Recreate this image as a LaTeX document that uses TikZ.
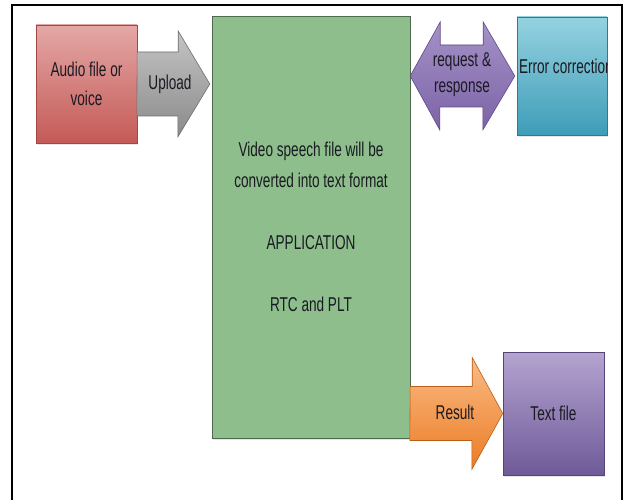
\documentclass[tikz,border=0pt]{standalone}
\usepackage{fontspec}
\setmainfont{Liberation Sans}[FakeStretch=0.68]
\usetikzlibrary{calc,shadows}
\definecolor{textgray}{HTML}{1A1A22}
\definecolor{audiotop}{HTML}{E4A8A6}
\definecolor{audiobot}{HTML}{C45A57}
\definecolor{audioedge}{HTML}{A34643}
\definecolor{uptop}{HTML}{C4C4C4}
\definecolor{upbot}{HTML}{8A8A8A}
\definecolor{upedge}{HTML}{6E6E6E}
\definecolor{appfill}{HTML}{8DBE8C}
\definecolor{appedge}{HTML}{4F6B4F}
\definecolor{reqtop}{HTML}{A592C8}
\definecolor{reqbot}{HTML}{7C63A6}
\definecolor{reqedge}{HTML}{5E4A82}
\definecolor{errtop}{HTML}{95D2E0}
\definecolor{errbot}{HTML}{3E9DB8}
\definecolor{erredge}{HTML}{2F7A90}
\definecolor{restop}{HTML}{FABB85}
\definecolor{resbot}{HTML}{EB7C24}
\definecolor{resedge}{HTML}{B85E18}
\definecolor{txttop}{HTML}{B4A4D0}
\definecolor{txtbot}{HTML}{6F5A99}
\definecolor{txtedge}{HTML}{54437A}
\begin{document}
\begin{tikzpicture}[x=1pt,y=-1pt]
   \tikzstyle{box} = [rectangle, inner sep=0pt, align=center, text=textgray, font=\fontsize{20}{29}\selectfont, drop shadow={opacity=0.2, shadow xshift=1pt, shadow yshift=-2pt}]
   \tikzstyle{label} = [inner sep=0pt, align=center, text=textgray, font=\fontsize{20}{26}\selectfont]
   \tikzstyle{blockarrow} = [line width=0.6pt, line join=miter, drop shadow={opacity=0.15, shadow xshift=1pt, shadow yshift=-2pt}]

   \useasboundingbox (0,0) rectangle (627,500);
   \clip (0,0) rectangle (627,500);
   \draw[line width=2pt] (12,510) -- (12,5) -- (622,5) -- (622,510);

      \draw
        (86.5, 84) node[box, minimum width=101pt, minimum height=118pt, top color=audiotop, bottom color=audiobot, draw=audioedge] (audio){Audio file or\\voice}
        (311, 227) node[box, minimum width=198pt, minimum height=422pt, fill=appfill, draw=appedge, font=\fontsize{20}{31}\selectfont] (app){Video speech file will be\\converted into text format\\[31pt]APPLICATION\\[31pt]RTC and PLT}
        (562, 76) node[box, minimum width=90pt, minimum height=118pt, top color=errtop, bottom color=errbot, draw=erredge] (err){}
        (553.5, 413.5) node[box, minimum width=101pt, minimum height=123pt, top color=txttop, bottom color=txtbot, draw=txtedge] (txt){Text file};

  \begin{scope}
    \clip (err.north west) rectangle (err.south east);
    \node[label, anchor=west] (errtext) at ([xshift=2pt,yshift=10pt]err.west) {Error correction};
  \end{scope}

  \begin{scope}[blockarrow]
    \draw[top color=uptop, bottom color=upbot, draw=upedge] (audio.east) ++(0,-32) -- ++(41,0) -- ++(0,-21) -- ([xshift=-2pt]app.west |- audio.east) -- ++(-32,53) -- ++(0,-21) -- ++(-41,0) -- cycle;
    \draw[top color=reqtop, bottom color=reqbot, draw=reqedge] (app.east |- err.west) -- ++(30,-54) -- ++(0,23) -- ++(43,0) -- ++(0,-23) -- ([xshift=-2pt]err.west) -- ++(-32,54) -- ++(0,-23) -- ++(-43,0) -- ++(0,23) -- cycle;
    \draw[top color=restop, bottom color=resbot, draw=resedge] (app.east |- txt.west) ++(0,-27) -- ++(62,0) -- ++(0,-29) -- (txt.west) -- ++(-31,56) -- ++(0,-29) -- ++(-62,0) -- cycle;
  \end{scope}

  \node[label] (upload) at (170, 84) {Upload};
  \node[label] (request) at (462, 75) {request \&\\response};
  \node[label] (result) at (455, 412) {Result};
\end{tikzpicture}
\end{document}
